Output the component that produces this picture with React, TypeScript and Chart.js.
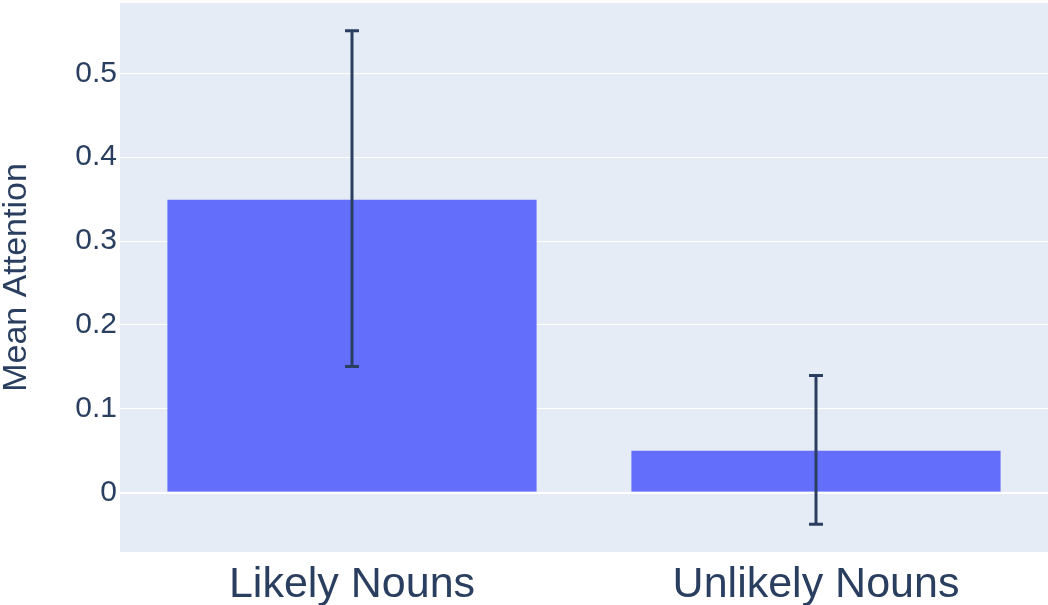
import React, { useEffect, useRef } from "react";
import { Chart, registerables } from "chart.js";

Chart.register(...registerables);

const categories = ["Likely Nouns", "Unlikely Nouns"];
const meanValues = [0.3505, 0.0512];
const errorValues = [0.2, 0.0885];
const yTickValues = [0, 0.1, 0.2, 0.3, 0.4, 0.5];
const yMin = -0.0705;
const yMax = 0.5837;

const TEXT = "#2a3f5f";
const FONT = "'Liberation Sans', Arial, sans-serif";

const bgPlugin = {
  id: "plotBg",
  beforeDraw(chart: any) {
    const { ctx, chartArea } = chart;
    ctx.save();
    ctx.fillStyle = "#E5ECF6";
    ctx.fillRect(chartArea.left, chartArea.top, chartArea.right - chartArea.left, chartArea.bottom - chartArea.top);
    ctx.restore();
  },
};

const errorBarPlugin = {
  id: "errorBars",
  afterDatasetsDraw(chart: any) {
    const { ctx } = chart;
    const yScale = chart.scales.y;
    const meta = chart.getDatasetMeta(0);
    ctx.save();
    ctx.strokeStyle = TEXT;
    ctx.lineWidth = 3;
    meta.data.forEach((bar: any, i: number) => {
      const x = bar.x;
      const yTop = yScale.getPixelForValue(meanValues[i] + errorValues[i]);
      const yBot = yScale.getPixelForValue(meanValues[i] - errorValues[i]);
      const half = 7;
      ctx.beginPath();
      ctx.moveTo(x, yTop);
      ctx.lineTo(x, yBot);
      ctx.moveTo(x - half, yTop);
      ctx.lineTo(x + half, yTop);
      ctx.moveTo(x - half, yBot);
      ctx.lineTo(x + half, yBot);
      ctx.stroke();
    });
    ctx.restore();
  },
};

export default function App() {
  const canvasRef = useRef<HTMLCanvasElement | null>(null);

  useEffect(() => {
    if (!canvasRef.current) return;
    const chart = new Chart(canvasRef.current, {
      type: "bar",
      data: {
        labels: categories,
        datasets: [
          {
            data: meanValues,
            backgroundColor: "#636EFA",
            borderColor: "rgba(229,236,246,0.6)",
            borderWidth: 1,
            barPercentage: 0.8,
            categoryPercentage: 1,
          },
        ],
      },
      options: {
        responsive: false,
        animation: false,
        layout: { padding: { top: 3, left: 0, right: 0, bottom: 0 } },
        plugins: {
          legend: { display: false },
          tooltip: { enabled: false },
        },
        scales: {
          x: {
            grid: { display: false, drawTicks: false },
            border: { display: false },
            ticks: {
              color: TEXT,
              font: { family: FONT, size: 43 },
              padding: 7,
              maxRotation: 0,
            },
            afterFit(scale: any) {
              scale.height = 53;
              scale.paddingLeft = 0;
              scale.paddingRight = 0;
            },
          },
          y: {
            min: yMin,
            max: yMax,
            grid: {
              color: "#ffffff",
              lineWidth: (c: any) => (c.tick && c.tick.value === 0 ? 2 : 1),
              drawTicks: false,
            },
            border: { display: false },
            ticks: {
              color: TEXT,
              font: { family: FONT, size: 30 },
              padding: 3,
              callback: (v: any) => (Number(v) === 0 ? "0" : Number(v).toFixed(1)),
            },
            afterBuildTicks(scale: any) {
              scale.ticks = yTickValues.map((v) => ({ value: v }));
            },
            afterFit(scale: any) {
              scale.width = 120;
              scale.paddingTop = 0;
              scale.paddingBottom = 0;
            },
            title: {
              display: true,
              text: "Mean Attention",
              color: TEXT,
              font: { family: FONT, size: 34, lineHeight: 1 },
              padding: 0,
            },
          },
        },
      },
      plugins: [bgPlugin, errorBarPlugin],
    });
    return () => chart.destroy();
  }, []);

  return (
    <div style={{ position: "fixed", left: 0, top: 0, width: 1048, height: 605, background: "#fff" }}>
      <canvas ref={canvasRef} width={1048} height={605} />
    </div>
  );
}
